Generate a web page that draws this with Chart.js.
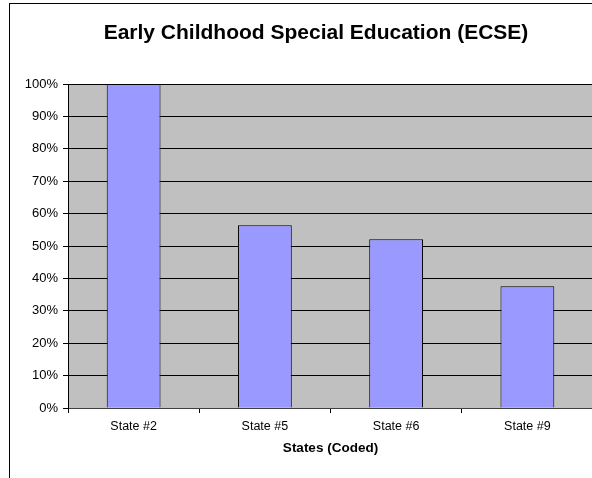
<!DOCTYPE html>
<html>
<head>
<meta charset="utf-8">
<script src="https://cdn.jsdelivr.net/npm/chart.js@4"></script>
<style>
  html, body { margin: 0; padding: 0; background: #fff; overflow: hidden; }
  body { width: 592px; height: 478px; position: relative; }
  #frame {
    position: absolute; left: 9px; top: 3px;
    width: 612px; height: 476px;
    border: 1px solid #000;
  }
  #myChart { display: block; }
</style>
</head>
<body>
<div id="frame"><canvas id="myChart" width="612" height="476"></canvas></div>
<script>
const states = ["State #2", "State #5", "State #6", "State #9"];
const percentages = [100, 56.4, 52.1, 37.6];

// grey plot area like the old spreadsheet charts
const plotBackground = {
  id: "plotBackground",
  beforeDraw: (chart) => {
    const { ctx, chartArea } = chart;
    ctx.save();
    ctx.fillStyle = "#C0C0C0";
    ctx.fillRect(chartArea.left, chartArea.top, chartArea.width, chartArea.height);
    ctx.restore();
  },
};

const font = "'Liberation Sans', Arial, sans-serif";

const data = {
  labels: states,
  datasets: [
    {
      data: percentages,
      backgroundColor: "#9999FF",
      borderColor: "#000000",
      borderWidth: 1,
      barPercentage: 0.41,
      categoryPercentage: 1,
    },
  ],
};

const config = {
  type: "bar",
  data: data,
  options: {
    responsive: false,
    animation: false,
    devicePixelRatio: 1,
    layout: { padding: 0 },
    plugins: {
      legend: { display: false },
      tooltip: { enabled: false },
      title: {
        display: true,
        text: "Early Childhood Special Education (ECSE)",
        color: "#000",
        font: { family: font, size: 21, weight: "bold" },
        padding: { top: 16.4, bottom: 38.4 },
      },
    },
    scales: {
      x: {
        offset: true,
        afterFit: (axis) => {
          axis.height = 72;
        },
        grid: {
          offset: true,
          drawOnChartArea: false,
          drawTicks: true,
          tickLength: 5,
          color: "#000",
        },
        border: { color: "#404040", width: 1 },
        ticks: {
          color: "#000",
          padding: 6,
          font: { family: font, size: 12.5 },
        },
        title: {
          display: true,
          text: "States (Coded)",
          color: "#000",
          font: { family: font, size: 13.5, weight: "bold" },
          padding: { top: 0, bottom: 24 },
        },
      },
      y: {
        min: 0,
        max: 100,
        afterFit: (axis) => {
          axis.width = 58;
        },
        grid: {
          color: "#000",
          tickLength: 5,
          drawTicks: true,
        },
        border: { color: "#000", width: 1 },
        ticks: {
          stepSize: 10,
          color: "#000",
          padding: 5,
          font: { family: font, size: 13 },
          callback: (value) => {
            return value + "%";
          },
        },
      },
      // empty axis on the right, keeps the plot narrower than the title box
      yRight: {
        position: "right",
        min: 0,
        max: 100,
        afterFit: (axis) => {
          axis.width = 29;
        },
        grid: { display: false },
        border: { display: false },
        ticks: { display: false },
      },
    },
  },
  plugins: [plotBackground],
};

let myChart = new Chart(document.getElementById("myChart"), config);
</script>
</body>
</html>
